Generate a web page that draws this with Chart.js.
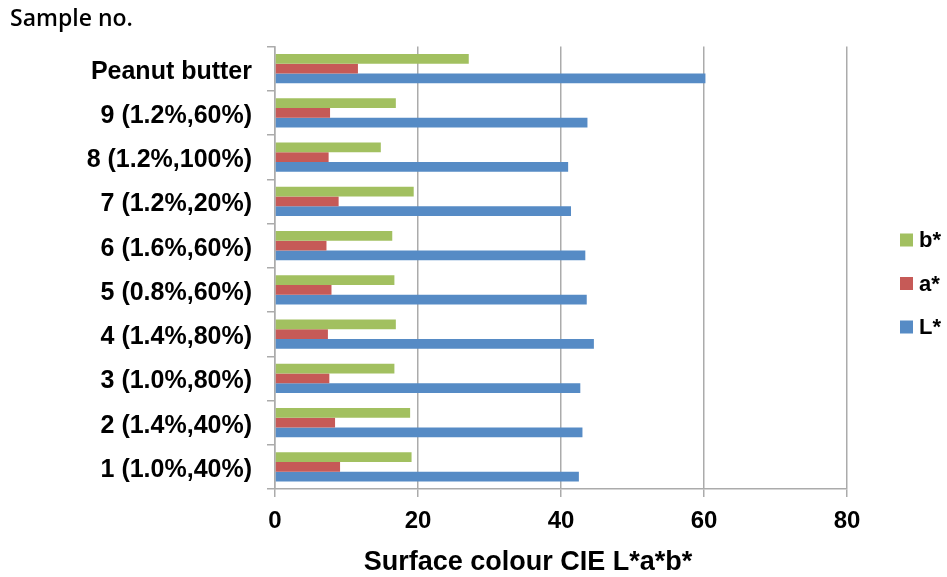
<!DOCTYPE html>
<html>
<head>
<meta charset="utf-8">
<title>Surface colour CIE L*a*b*</title>
<script src="https://cdn.jsdelivr.net/npm/chart.js@4/dist/chart.umd.min.js"></script>
<style>
  html, body { margin: 0; padding: 0; background: #ffffff; }
  #wrap { width: 947px; height: 577px; }
</style>
</head>
<body>
<div id="wrap"><canvas id="chart" width="947" height="577"></canvas></div>
<script>
// Samples, top to bottom
const categories = [
  'Peanut butter',
  '9 (1.2%,60%)',
  '8 (1.2%,100%)',
  '7 (1.2%,20%)',
  '6 (1.6%,60%)',
  '5 (0.8%,60%)',
  '4 (1.4%,80%)',
  '3 (1.0%,80%)',
  '2 (1.4%,40%)',
  '1 (1.0%,40%)'
];

// CIE L*a*b* readings per sample
const bStar = [27.1, 16.9, 14.8, 19.4, 16.4, 16.7, 16.9, 16.7, 18.9, 19.1];
const aStar = [11.6, 7.7, 7.5, 8.9, 7.2, 7.9, 7.4, 7.6, 8.4, 9.1];
const lStar = [60.2, 43.7, 41.0, 41.4, 43.4, 43.6, 44.6, 42.7, 43.0, 42.5];

const seriesNames = ['b*', 'a*', 'L*'];
const xTicks = [0, 20, 40, 60, 80];
const xAxisTitle = 'Surface colour CIE L*a*b*';

const GREEN = '#A2C060';
const RED = '#C65A57';
const BLUE = '#568BC5';
const GRID = '#ABABAB';
const LABEL_FONT = 'Liberation Sans, Arial, sans-serif';

// Legend at the right (b*, a*, L*) and the horizontal axis caption
const sideLegend = {
  id: 'sideLegend',
  afterDraw(chart) {
    const ctx = chart.ctx;
    const x0 = 900, y0 = 240, step = 43.5, box = 13;
    ctx.save();
    ctx.font = 'bold 22px ' + LABEL_FONT;
    ctx.textBaseline = 'middle';
    ctx.textAlign = 'left';
    chart.data.datasets.forEach((ds, i) => {
      const y = y0 + i * step;
      ctx.fillStyle = ds.backgroundColor;
      ctx.fillRect(x0, y - box / 2, box, box);
      ctx.fillStyle = '#000000';
      ctx.fillText(ds.label, x0 + box + 6, y + 1);
    });

    ctx.font = 'bold 27px ' + LABEL_FONT;
    ctx.textAlign = 'center';
    ctx.textBaseline = 'alphabetic';
    ctx.fillText(xAxisTitle, 528, 570);
    ctx.restore();
  }
};

new Chart(document.getElementById('chart'), {
  type: 'bar',
  data: {
    labels: categories,
    datasets: [
      { label: seriesNames[0], data: bStar, backgroundColor: GREEN },
      { label: seriesNames[1], data: aStar, backgroundColor: RED },
      { label: seriesNames[2], data: lStar, backgroundColor: BLUE }
    ]
  },
  options: {
    indexAxis: 'y',
    responsive: false,
    animation: false,
    devicePixelRatio: 1,
    layout: { padding: { left: 10, right: 100, top: 0, bottom: 0 } },
    datasets: {
      bar: { categoryPercentage: 0.66, barPercentage: 1.0, borderWidth: 0 }
    },
    plugins: {
      legend: { display: false },
      tooltip: { enabled: false },
      title: {
        display: true,
        text: 'Sample no.',
        align: 'start',
        color: '#000000',
        font: { family: 'Open Sans, sans-serif', size: 23, weight: '600' },
        padding: { top: 6, bottom: 13 }
      }
    },
    scales: {
      x: {
        type: 'linear',
        min: 0,
        max: 80,
        afterBuildTicks(scale) {
          scale.ticks = xTicks.map(v => ({ value: v }));
        },
        afterFit(scale) { scale.height = 88; },
        grid: {
          color: GRID,
          lineWidth: 1.5,
          drawTicks: true,
          tickLength: 8,
          tickColor: GRID
        },
        border: { display: true, color: GRID, width: 1.5 },
        ticks: {
          color: '#000000',
          padding: 10,
          font: { family: LABEL_FONT, size: 24, weight: 'bold' }
        }
      },
      y: {
        type: 'category',
        afterFit(scale) { scale.width = 265; },
        grid: {
          drawOnChartArea: false,
          drawTicks: true,
          tickLength: 8,
          color: GRID,
          lineWidth: 1.5,
          offset: true
        },
        border: { display: true, color: GRID, width: 1.5 },
        ticks: {
          color: '#000000',
          padding: 15,
          labelOffset: 3,
          font: { family: LABEL_FONT, size: 25, weight: 'bold' }
        }
      }
    }
  },
  plugins: [sideLegend]
});
</script>
</body>
</html>
